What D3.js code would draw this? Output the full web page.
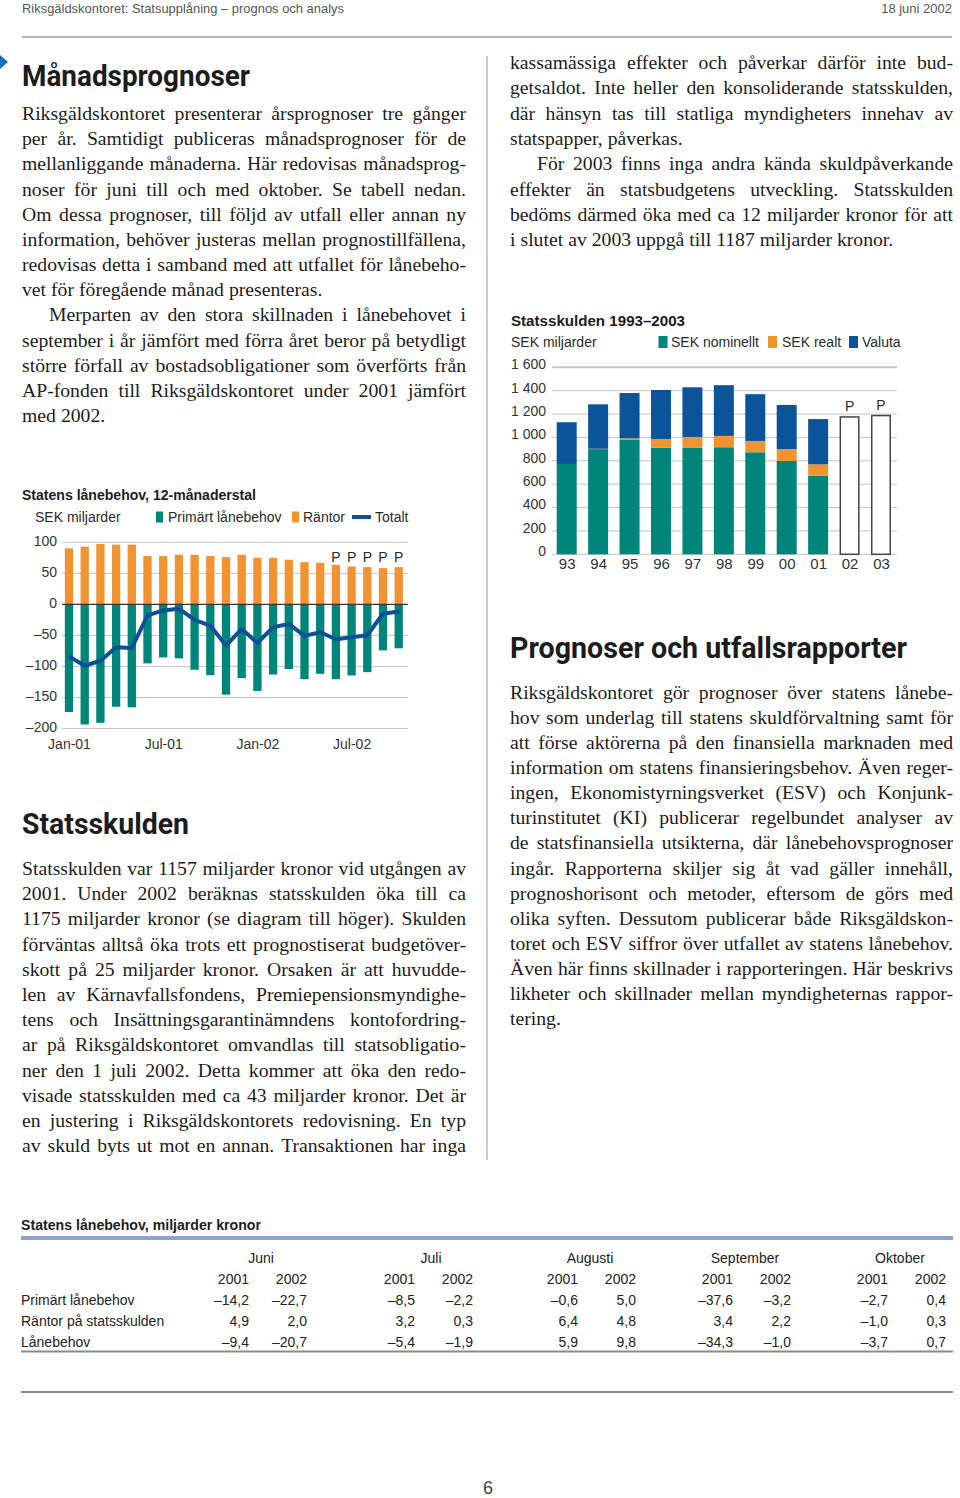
<!DOCTYPE html>
<html><head><meta charset="utf-8">
<script src="https://cdn.jsdelivr.net/npm/d3@7"></script>
<style>
body{margin:0;background:#fff}
svg{display:block}
.body{font-family:"Liberation Serif","Times New Roman",serif;font-size:19.7px;fill:#1c1c1c}
.head{font-family:Roboto,"Liberation Sans",sans-serif;font-weight:700;font-size:30px;fill:#1c1c1c}
.ch{font-family:"Liberation Sans",Arial,sans-serif;font-size:14px;fill:#2a2a2a}
.chb{font-family:"Liberation Sans",Arial,sans-serif;font-size:14px;font-weight:700;fill:#1c1c1c}
.tick text{font-family:"Liberation Sans",Arial,sans-serif;font-size:14px;fill:#333}
</style>
</head><body>
<script>
// ---------- DATA: Statens lånebehov, 12-månaderstal ----------
const months = ["Jan-01","Feb-01","Mar-01","Apr-01","Maj-01","Jun-01","Jul-01","Aug-01","Sep-01","Okt-01","Nov-01","Dec-01",
                "Jan-02","Feb-02","Mar-02","Apr-02","Maj-02","Jun-02","Jul-02","Aug-02","Sep-02","Okt-02"];
const primart = [-173.5,-193.5,-190.8,-164.9,-165.9,-95.1,-85.4,-87,-105.4,-114,-145.4,-118.9,
                 -139.5,-113,-104.3,-120.5,-111.9,-120.5,-114.6,-109.2,-74.1,-70.8];
const rantor  = [90.3,93,97.3,96.2,96.2,77.8,77.8,80,80,77.8,76.2,80,
                 75.1,75.1,71.9,68.1,67,63.8,61,60,58.4,60];
const totalt  = [-83.8,-98.9,-90.8,-69.2,-70.3,-17.8,-9.7,-7,-24.9,-34.1,-66.5,-39.5,
                 -62.2,-36.8,-31.4,-50.8,-44.9,-56.2,-53,-49.7,-15.1,-11.4];
const prognosMonths = ["Jun-02","Jul-02","Aug-02","Sep-02","Okt-02"];
const leftTicks = [100,50,0,-50,-100,-150,-200];
const leftXTicks = ["Jan-01","Jul-01","Jan-02","Jul-02"];

// ---------- DATA: Statsskulden 1993–2003 ----------
const years = ["93","94","95","96","97","98","99","00","01","02","03"];
const sekNominellt = [773,900,978,913,910,916,873,799,673];
const sekRealt     = [0,3,14,74,94,97,97,102,97];
const valuta       = [357,380,388,419,425,434,400,377,387];
const prognosYears = ["02","03"];
const prognosTotal = [1175,1187];
const rightTicks = [0,200,400,600,800,1000,1200,1400,1600];

// ---------- DATA: table ----------
const tableMonths = ["Juni","Juli","Augusti","September","Oktober"];
const tableYears = ["2001","2002"];
const tableRows = ["Primärt lånebehov","Räntor på statsskulden","Lånebehov"];
const primarVals    = [-14.2,-22.7,-8.5,-2.2,-0.6,5.0,-37.6,-3.2,-2.7,0.4];
const rantorVals    = [4.9,2.0,3.2,0.3,6.4,4.8,3.4,2.2,-1.0,0.3];
const lanebehovVals = [-9.4,-20.7,-5.4,-1.9,5.9,9.8,-34.3,-1.0,-3.7,0.7];

// ---------- COLOURS / LAYOUT ----------
const TEAL="#00857a", ORANGE="#f29331", BLUE="#0b5499", LINEBLUE="#0d5095";
const tableGroupRight = [307,473,636,791,946];   // layout: right edge of each month group
const tableMonthCenter = [261,431,590,745,900];  // layout: month label centres

const loc = d3.formatLocale({decimal:",",thousands:"\u00a0",grouping:[3],currency:["",""],minus:"\u2013"});

const svg = d3.select("body").append("svg").attr("width",960).attr("height",1498);

// ---------- page header ----------
svg.append("text").attr("x",22).attr("y",13).attr("textLength",322).attr("lengthAdjust","spacingAndGlyphs")
  .style("font-family","'Liberation Sans',Arial,sans-serif").style("font-size","13px").style("fill","#555")
  .text("Riksgäldskontoret: Statsupplåning – prognos och analys");
svg.append("text").attr("x",952).attr("y",13).attr("text-anchor","end")
  .style("font-family","'Liberation Sans',Arial,sans-serif").style("font-size","13px").style("fill","#555")
  .text("18 juni 2002");
svg.append("line").attr("x1",22).attr("x2",952).attr("y1",37).attr("y2",37).attr("stroke","#9a9a9a").attr("stroke-width",1.5);

// blue marker
svg.append("path").attr("d","M0,55 L8,62 L0,69 Z").attr("fill","#1a6eb5");

// column divider
svg.append("line").attr("x1",487).attr("x2",487).attr("y1",56).attr("y2",1160).attr("stroke","#9a9a9a").attr("stroke-width",1);

// ---------- text helpers ----------
function heading(x,y,w,str){
  svg.append("text").attr("class","head").attr("x",x).attr("y",y)
    .attr("textLength",w).attr("lengthAdjust","spacingAndGlyphs").text(str);
}
function drawLine(x0,x1,y,str,justify){
  const t = svg.append("text").attr("class","body").attr("y",y);
  const words = str.split(" ");
  const widths = words.map(w=>{
    const tmp = svg.append("text").attr("class","body").text(w);
    const wd = tmp.node().getComputedTextLength(); tmp.remove(); return wd;
  });
  let gap = justify ? (x1-x0-d3.sum(widths))/(words.length-1) : 5;
  let scale = 1;
  if(gap < 3.2){
    // shrink this line so it fits the column with a minimal word gap
    scale = (x1-x0-3.2*(words.length-1))/d3.sum(widths);
    gap = 3.2;
    t.style("font-size",(19.7*scale).toFixed(2)+"px");
  }
  let x = x0;
  words.forEach((w,i)=>{ t.append("tspan").attr("x",x).text(w); x += widths[i]*scale+gap; });
}
function para(x0,x1,y0,lh,lines){
  lines.forEach((l,i)=>{
    const ind = l[2]?27:0;
    drawLine(x0+ind,x1,y0+i*lh,l[0],l[1]);
  });
}

// ---------- left column text ----------
heading(22,86,228,"Månadsprognoser");
para(22,466,120,25.17,[
 ["Riksgäldskontoret presenterar årsprognoser tre gånger",true],
 ["per år. Samtidigt publiceras månadsprognoser för de",true],
 ["mellanliggande månaderna. Här redovisas månadsprog-",true],
 ["noser för juni till och med oktober. Se tabell nedan.",true],
 ["Om dessa prognoser, till följd av utfall eller annan ny",true],
 ["information, behöver justeras mellan prognostillfällena,",true],
 ["redovisas detta i samband med att utfallet för lånebeho-",true],
 ["vet för föregående månad presenteras.",false],
 ["Merparten av den stora skillnaden i lånebehovet i",true,true],
 ["september i år jämfört med förra året beror på betydligt",true],
 ["större förfall av bostadsobligationer som överförts från",true],
 ["AP-fonden till Riksgäldskontoret under 2001 jämfört",true],
 ["med 2002.",false]
]);
heading(22,834,167,"Statsskulden");
para(22,466,875,25.2,[
 ["Statsskulden var 1157 miljarder kronor vid utgången av",true],
 ["2001. Under 2002 beräknas statsskulden öka till ca",true],
 ["1175 miljarder kronor (se diagram till höger). Skulden",true],
 ["förväntas alltså öka trots ett prognostiserat budgetöver-",true],
 ["skott på 25 miljarder kronor. Orsaken är att huvudde-",true],
 ["len av Kärnavfallsfondens, Premiepensionsmyndighe-",true],
 ["tens och Insättningsgarantinämndens kontofordring-",true],
 ["ar på Riksgäldskontoret omvandlas till statsobligatio-",true],
 ["ner den 1 juli 2002. Detta kommer att öka den redo-",true],
 ["visade statsskulden med ca 43 miljarder kronor. Det är",true],
 ["en justering i Riksgäldskontorets redovisning. En typ",true],
 ["av skuld byts ut mot en annan. Transaktionen har inga",true]
]);

// ---------- right column text ----------
para(510,953,69,25.3,[
 ["kassamässiga effekter och påverkar därför inte bud-",true],
 ["getsaldot. Inte heller den konsoliderande statsskulden,",true],
 ["där hänsyn tas till statliga myndigheters innehav av",true],
 ["statspapper, påverkas.",false],
 ["För 2003 finns inga andra kända skuldpåverkande",true,true],
 ["effekter än statsbudgetens utveckling. Statsskulden",true],
 ["bedöms därmed öka med ca 12 miljarder kronor för att",true],
 ["i slutet av 2003 uppgå till 1187 miljarder kronor.",false]
]);
heading(510,658,397,"Prognoser och utfallsrapporter");
para(510,953,699,25.08,[
 ["Riksgäldskontoret gör prognoser över statens lånebe-",true],
 ["hov som underlag till statens skuldförvaltning samt för",true],
 ["att förse aktörerna på den finansiella marknaden med",true],
 ["information om statens finansieringsbehov. Även reger-",true],
 ["ingen, Ekonomistyrningsverket (ESV) och Konjunk-",true],
 ["turinstitutet (KI) publicerar regelbundet analyser av",true],
 ["de statsfinansiella utsikterna, där lånebehovsprognoser",true],
 ["ingår. Rapporterna skiljer sig åt vad gäller innehåll,",true],
 ["prognoshorisont och metoder, eftersom de görs med",true],
 ["olika syften. Dessutom publicerar både Riksgäldskon-",true],
 ["toret och ESV siffror över utfallet av statens lånebehov.",true],
 ["Även här finns skillnader i rapporteringen. Här beskrivs",true],
 ["likheter och skillnader mellan myndigheternas rappor-",true],
 ["tering.",false]
]);

// ---------- LEFT CHART ----------
{
  const g = svg.append("g");
  const x = d3.scalePoint().domain(months).range([69,398.7]);
  const y = d3.scaleLinear().domain([-200,100]).range([728.5,542.3]);
  const bw = 8.3, gx0 = 62, gx1 = 408;

  g.append("text").attr("class","chb").attr("x",22).attr("y",500).attr("textLength",234).attr("lengthAdjust","spacingAndGlyphs").text("Statens lånebehov, 12-månaderstal");
  g.append("text").attr("class","ch").attr("x",35).attr("y",522).text("SEK miljarder");
  g.append("rect").attr("x",156).attr("y",511.5).attr("width",7).attr("height",11).attr("fill",TEAL);
  g.append("text").attr("class","ch").attr("x",168).attr("y",522).text("Primärt lånebehov");
  g.append("rect").attr("x",292).attr("y",511.5).attr("width",7).attr("height",11).attr("fill",ORANGE);
  g.append("text").attr("class","ch").attr("x",303).attr("y",522).text("Räntor");
  g.append("line").attr("x1",352).attr("x2",371).attr("y1",517).attr("y2",517).attr("stroke",LINEBLUE).attr("stroke-width",4);
  g.append("text").attr("class","ch").attr("x",375).attr("y",522).text("Totalt");

  g.append("g").selectAll("line").data(leftTicks.filter(d=>d!==0)).join("line")
    .attr("x1",gx0).attr("x2",gx1).attr("y1",d=>y(d)).attr("y2",d=>y(d)).attr("stroke","#c4c4c4").attr("stroke-width",1);

  const ax = g.append("g").attr("transform",`translate(${gx0},0)`)
    .call(d3.axisLeft(y).tickValues(leftTicks).tickSize(0).tickPadding(5).tickFormat(loc.format("d")));
  ax.select(".domain").remove();
  ax.selectAll("text").attr("dy","0.2em");

  g.append("g").selectAll("rect").data(months).join("rect")
    .attr("x",d=>x(d)-bw/2).attr("width",bw)
    .attr("y",(d,i)=>y(rantor[i])).attr("height",(d,i)=>y(0)-y(rantor[i])).attr("fill",ORANGE);
  g.append("g").selectAll("rect").data(months).join("rect")
    .attr("x",d=>x(d)-bw/2).attr("width",bw)
    .attr("y",y(0)).attr("height",(d,i)=>y(primart[i])-y(0)).attr("fill",TEAL);

  g.append("line").attr("x1",gx0).attr("x2",gx1).attr("y1",y(0)).attr("y2",y(0)).attr("stroke","#333").attr("stroke-width",1.2);

  const line = d3.line().x((d,i)=>x(months[i])).y(d=>y(d));
  g.append("path").attr("d",line(totalt)).attr("fill","none").attr("stroke",LINEBLUE)
    .attr("stroke-width",4).attr("stroke-linejoin","round").attr("stroke-linecap","round");

  g.append("g").selectAll("text").data(prognosMonths).join("text").attr("class","ch")
    .attr("x",d=>x(d)).attr("y",562).attr("text-anchor","middle").text("P");

  const xa = g.append("g").attr("transform","translate(0,735)")
    .call(d3.axisBottom(x).tickValues(leftXTicks).tickSize(0).tickPadding(0));
  xa.select(".domain").remove();
  xa.selectAll("text").attr("dy","0").attr("y",14);
}

// ---------- RIGHT CHART ----------
{
  const g = svg.append("g");
  const x = d3.scalePoint().domain(years).range([566.7,881]);
  const y = d3.scaleLinear().domain([0,1600]).range([554.3,367.3]);
  const bw = 20, gx0 = 552, gx1 = 897;

  g.append("text").attr("class","chb").attr("x",511).attr("y",326).attr("textLength",174).attr("lengthAdjust","spacingAndGlyphs").text("Statsskulden 1993–2003");
  g.append("text").attr("class","ch").attr("x",511).attr("y",347).text("SEK miljarder");
  g.append("rect").attr("x",658.5).attr("y",336).attr("width",9).attr("height",12).attr("fill",TEAL);
  g.append("text").attr("class","ch").attr("x",671).attr("y",347).text("SEK nominellt");
  g.append("rect").attr("x",768).attr("y",336).attr("width",9).attr("height",12).attr("fill",ORANGE);
  g.append("text").attr("class","ch").attr("x",782).attr("y",347).text("SEK realt");
  g.append("rect").attr("x",849).attr("y",336).attr("width",9).attr("height",12).attr("fill",BLUE);
  g.append("text").attr("class","ch").attr("x",862).attr("y",347).text("Valuta");

  g.append("g").selectAll("line").data(rightTicks).join("line")
    .attr("x1",gx0).attr("x2",gx1).attr("y1",d=>y(d)).attr("y2",d=>y(d)).attr("stroke","#c4c4c4").attr("stroke-width",d=>d===1600?2:1);

  const ax = g.append("g").attr("transform",`translate(${gx0},0)`)
    .call(d3.axisLeft(y).tickValues(rightTicks).tickSize(0).tickPadding(6).tickFormat(loc.format(",d")));
  ax.select(".domain").remove();
  ax.selectAll("text").attr("dy","0.1em");

  const rows = sekNominellt.map((v,i)=>({year:years[i],nom:v,real:sekRealt[i],val:valuta[i]}));
  const stack = d3.stack().keys(["nom","real","val"])(rows);
  const cols = {nom:TEAL,real:ORANGE,val:BLUE};
  g.append("g").selectAll("g").data(stack).join("g").attr("fill",s=>cols[s.key])
    .selectAll("rect").data(s=>s).join("rect")
    .attr("x",d=>x(d.data.year)-bw/2).attr("width",bw)
    .attr("y",d=>y(d[1])).attr("height",d=>y(d[0])-y(d[1]));

  g.append("g").selectAll("rect").data(prognosYears).join("rect")
    .attr("x",d=>x(d)-bw/2+0.75).attr("width",bw-1.5)
    .attr("y",(d,i)=>y(prognosTotal[i])).attr("height",(d,i)=>y(0)-y(prognosTotal[i]))
    .attr("fill","#fff").attr("stroke","#444").attr("stroke-width",1.5);
  g.append("g").selectAll("text").data(prognosYears).join("text").attr("class","ch")
    .attr("x",d=>x(d)).attr("y",(d,i)=>y(prognosTotal[i])-6).attr("text-anchor","middle").text("P");

  const xa = g.append("g").attr("transform","translate(0,555)")
    .call(d3.axisBottom(x).tickSize(0).tickPadding(0));
  xa.select(".domain").remove();
  xa.selectAll("text").attr("dy","0").attr("y",14).style("font-size","15px");
}

// ---------- TABLE ----------
{
  const g = svg.append("g");
  const tf = "'Liberation Sans',Arial,sans-serif";
  g.append("text").attr("x",21).attr("y",1230).attr("textLength",240).attr("lengthAdjust","spacingAndGlyphs")
    .style("font-family",tf).style("font-weight","700").style("font-size","14px").style("fill","#1c1c1c")
    .text("Statens lånebehov, miljarder kronor");
  g.append("line").attr("x1",21).attr("x2",953).attr("y1",1238).attr("y2",1238).attr("stroke","#8ea5c8").attr("stroke-width",4);

  const colX = (mi,yi)=> tableGroupRight[mi] - (yi===0?58:0);
  const txt = (x,y,s,anchor)=> g.append("text").attr("x",x).attr("y",y).attr("text-anchor",anchor)
      .style("font-family",tf).style("font-size","14px").style("fill","#222").text(s);

  tableMonths.forEach((m,mi)=>{
    txt(tableMonthCenter[mi],1263,m,"middle");
    tableYears.forEach((yr,yi)=> txt(colX(mi,yi),1284,yr,"end"));
  });
  const allVals = [primarVals,rantorVals,lanebehovVals];
  const rowY = [1305,1326,1347];
  tableRows.forEach((r,ri)=>{
    txt(21,rowY[ri],r,"start");
    allVals[ri].forEach((v,k)=> txt(colX(Math.floor(k/2),k%2),rowY[ri],loc.format(".1f")(v),"end"));
  });
  g.append("line").attr("x1",21).attr("x2",953).attr("y1",1351.5).attr("y2",1351.5).attr("stroke","#8a8a8a").attr("stroke-width",2);
  g.append("line").attr("x1",21).attr("x2",953).attr("y1",1392).attr("y2",1392).attr("stroke","#8a8a8a").attr("stroke-width",2);
}

// page number
svg.append("text").attr("x",488).attr("y",1494).attr("text-anchor","middle")
  .style("font-family","'Liberation Sans',Arial,sans-serif").style("font-size","18px").style("fill","#444").text("6");
</script>
</body></html>
